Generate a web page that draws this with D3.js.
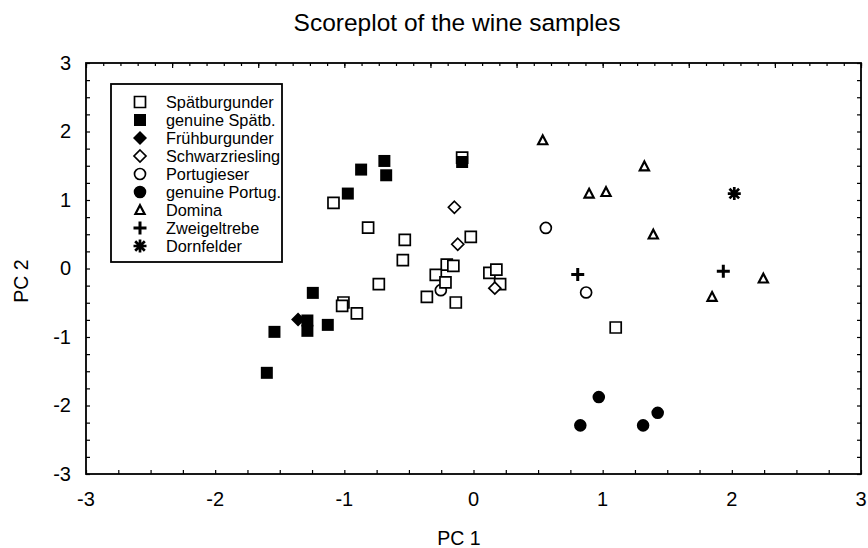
<!DOCTYPE html>
<html>
<head>
<meta charset="utf-8">
<script src="https://d3js.org/d3.v7.min.js"></script>
<style>
  body { margin: 0; background: #fff; }
  svg { font-family: Arial, "Liberation Sans", sans-serif; }
</style>
</head>
<body>
<div id="chart"></div>
<script>
// scores: [PC 1, PC 2]
const spaetburgunder = [
  [-1.084, 0.957], [-0.816, 0.598], [-0.532, 0.417], [-0.547, 0.121], [-0.733, -0.229],
  [-1.007, -0.496], [-1.017, -0.546], [-0.903, -0.656], [-0.021, 0.461], [-0.207, 0.058],
  [-0.156, 0.038], [-0.292, -0.093], [-0.217, -0.204], [-0.361, -0.414], [-0.137, -0.496],
  [0.123, -0.064], [0.177, -0.015], [0.206, -0.229], [1.101, -0.861], [-0.088, 1.619]
];
const genuineSpaetb = [
  [-0.870, 1.444], [-0.690, 1.570], [-0.676, 1.361], [-0.973, 1.094], [-0.088, 1.555],
  [-1.244, -0.356], [-1.541, -0.925], [-1.286, -0.759], [-1.286, -0.910], [-1.128, -0.823],
  [-1.600, -1.523]
];
const fruehburgunder = [[-1.358, -0.743]];
const schwarzriesling = [[-0.148, 0.894], [-0.122, 0.354], [0.165, -0.287]];
const portugieser = [[-0.253, -0.317], [0.560, 0.592], [0.872, -0.350]];
const genuinePortug = [[0.970, -1.877], [0.827, -2.290], [1.426, -2.107], [1.313, -2.290]];
const domina = [
  [0.536, 1.872], [1.323, 1.492], [0.895, 1.094], [1.026, 1.117], [1.392, 0.496],
  [2.244, -0.146], [1.847, -0.414]
];
const zweigeltrebe = [[0.807, -0.088], [1.934, -0.039]];
const dornfelder = [[2.019, 1.094]];

const legendNames = ["Spätburgunder", "genuine Spätb.", "Frühburgunder", "Schwarzriesling",
  "Portugieser", "genuine Portug.", "Domina", "Zweigeltrebe", "Dornfelder"];
const tickValues = [-3, -2, -1, 0, 1, 2, 3];

const width = 868, height = 548;
const plot = {left: 86, right: 861, top: 63, bottom: 474};

const svg = d3.select("#chart").append("svg")
  .attr("width", width)
  .attr("height", height);

const x = d3.scaleLinear().domain([-3, 3]).range([plot.left, plot.right]);
const y = d3.scaleLinear().domain([-3, 3]).range([plot.bottom, plot.top]);

// marker shapes
const diamond = h => ({draw(c) { c.moveTo(0, -h); c.lineTo(h, 0); c.lineTo(0, h); c.lineTo(-h, 0); c.closePath(); }});
const triangle = {draw(c) { c.moveTo(0, -4.8); c.lineTo(4.6, 4); c.lineTo(-4.6, 4); c.closePath(); }};
const plus = {draw(c) { c.moveTo(-6.5, 0); c.lineTo(6.5, 0); c.moveTo(0, -6.5); c.lineTo(0, 6.5); }};
const asterisk = {draw(c) {
  c.moveTo(-6.5, 0); c.lineTo(6.5, 0); c.moveTo(0, -6.5); c.lineTo(0, 6.5);
  c.moveTo(-4.8, -4.8); c.lineTo(4.8, 4.8); c.moveTo(-4.8, 4.8); c.lineTo(4.8, -4.8);
}};

const styles = {
  "Spätburgunder":   {type: d3.symbolSquare, size: 121, fill: "#fff", stroke: "#000", sw: 1.7},
  "genuine Spätb.":  {type: d3.symbolSquare, size: 144, fill: "#000", stroke: "none", sw: 0},
  "Frühburgunder":   {type: diamond(7), size: 1, fill: "#000", stroke: "none", sw: 0},
  "Schwarzriesling": {type: diamond(6), size: 1, fill: "#fff", stroke: "#000", sw: 1.7},
  "Portugieser":     {type: d3.symbolCircle, size: 95, fill: "#fff", stroke: "#000", sw: 1.7},
  "genuine Portug.": {type: d3.symbolCircle, size: 124, fill: "#000", stroke: "none", sw: 0},
  "Domina":          {type: triangle, size: 1, fill: "#fff", stroke: "#000", sw: 2.2},
  "Zweigeltrebe":    {type: plus, size: 1, fill: "none", stroke: "#000", sw: 3},
  "Dornfelder":      {type: asterisk, size: 1, fill: "none", stroke: "#000", sw: 2.7}
};

// draw order (later on top)
const series = [
  ["Portugieser", portugieser],
  ["Spätburgunder", spaetburgunder],
  ["Schwarzriesling", schwarzriesling],
  ["Frühburgunder", fruehburgunder],
  ["genuine Spätb.", genuineSpaetb],
  ["genuine Portug.", genuinePortug],
  ["Domina", domina],
  ["Zweigeltrebe", zweigeltrebe],
  ["Dornfelder", dornfelder]
];

// title and axis labels
svg.append("text")
  .attr("x", 457).attr("y", 31)
  .attr("text-anchor", "middle")
  .style("font-size", "24.5px")
  .text("Scoreplot of the wine samples");

svg.append("text")
  .attr("x", 459).attr("y", 545)
  .attr("text-anchor", "middle")
  .style("font-size", "19.5px")
  .text("PC 1");

svg.append("text")
  .attr("transform", "translate(28,281) rotate(-90)")
  .attr("text-anchor", "middle")
  .style("font-size", "19.5px")
  .text("PC 2");

// ticks, all pointing inwards
function styleAxis(g) {
  g.select(".domain").remove();
  g.selectAll("line").attr("stroke", "#000").attr("stroke-width", 1.2);
}
const minor = d3.range(-3, 3.001, 0.25);

svg.append("g")
  .attr("transform", `translate(0,${plot.bottom})`)
  .call(d3.axisBottom(x).tickValues(minor).tickSize(-4).tickFormat(""))
  .call(styleAxis);
svg.append("g")
  .attr("transform", `translate(${plot.left},0)`)
  .call(d3.axisLeft(y).tickValues(minor).tickSize(-4).tickFormat(""))
  .call(styleAxis);
svg.append("g")
  .attr("transform", `translate(${plot.right},0)`)
  .call(d3.axisRight(y).tickValues(minor).tickSize(-4).tickFormat(""))
  .call(styleAxis);

// top axis is split into 9 intervals of 5 minor steps
const xTop = d3.scaleLinear().domain([0, 45]).range([plot.left, plot.right]);
svg.append("g")
  .attr("transform", `translate(0,${plot.top})`)
  .call(d3.axisTop(xTop).tickValues(d3.range(0, 46)).tickSize(-3).tickFormat(""))
  .call(styleAxis);
svg.append("g")
  .attr("transform", `translate(0,${plot.top})`)
  .call(d3.axisTop(xTop).tickValues(d3.range(0, 46, 5)).tickSize(-5).tickFormat(""))
  .call(styleAxis);

// tick labels
svg.append("g").selectAll("text")
  .data(tickValues)
  .join("text")
  .attr("x", d => x(d)).attr("y", 506)
  .attr("text-anchor", "middle")
  .style("font-size", "20px")
  .text(d => d);

svg.append("g").selectAll("text")
  .data(tickValues)
  .join("text")
  .attr("x", 71).attr("y", d => y(d))
  .attr("dy", "0.33em")
  .attr("text-anchor", "end")
  .style("font-size", "20px")
  .text(d => d);

// frame
svg.append("rect")
  .attr("x", plot.left).attr("y", plot.top)
  .attr("width", plot.right - plot.left)
  .attr("height", plot.bottom - plot.top)
  .attr("fill", "none")
  .attr("stroke", "#000")
  .attr("stroke-width", 1.8);

// points
const points = svg.append("g");
series.forEach(([name, data]) => {
  const s = styles[name];
  points.append("g").selectAll("path")
    .data(data)
    .join("path")
    .attr("transform", d => `translate(${x(d[0])},${y(d[1])})`)
    .attr("d", d3.symbol().type(s.type).size(s.size))
    .attr("fill", s.fill)
    .attr("stroke", s.stroke)
    .attr("stroke-width", s.sw);
});

// legend
const legend = svg.append("g");
legend.append("rect")
  .attr("x", 111).attr("y", 84)
  .attr("width", 171).attr("height", 178)
  .attr("fill", "#fff")
  .attr("stroke", "#000")
  .attr("stroke-width", 1.8);

const items = legend.selectAll("g.item")
  .data(legendNames)
  .join("g")
  .attr("class", "item")
  .attr("transform", (d, i) => `translate(140,${102 + i * 18})`);

items.append("path")
  .attr("d", d => d3.symbol().type(styles[d].type).size(styles[d].size)())
  .attr("fill", d => styles[d].fill)
  .attr("stroke", d => styles[d].stroke)
  .attr("stroke-width", d => styles[d].sw);

items.append("text")
  .attr("x", 26).attr("dy", "0.36em")
  .style("font-size", "16.3px")
  .text(d => d);
</script>
</body>
</html>
